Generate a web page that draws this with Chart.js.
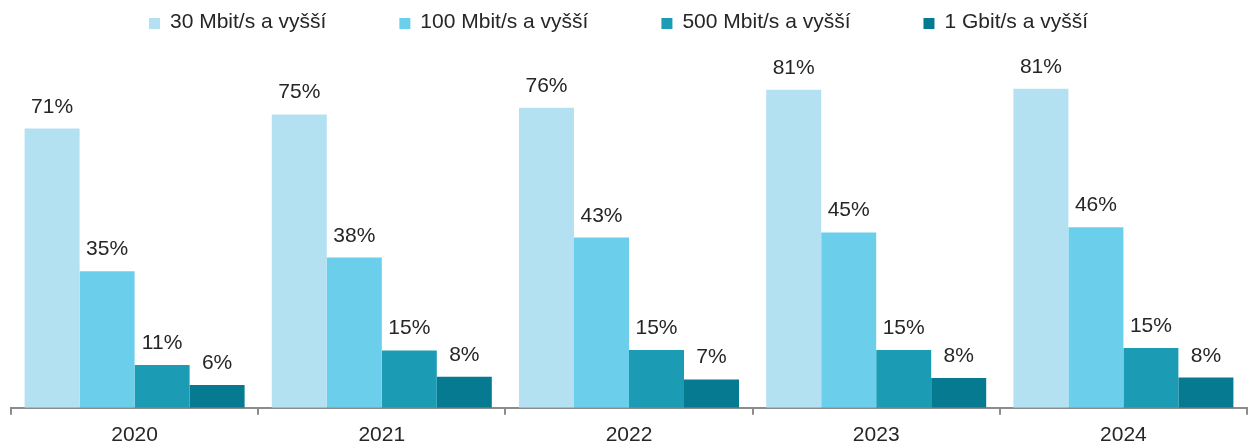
<!DOCTYPE html>
<html>
<head>
<meta charset="utf-8">
<script src="https://cdn.jsdelivr.net/npm/chart.js@4/dist/chart.umd.min.js"></script>
<style>
  html, body { margin: 0; padding: 0; background: #fff; }
  #wrap { width: 1249px; height: 443px; position: relative; }
</style>
</head>
<body>
<div id="wrap"><canvas id="speedChart"></canvas></div>
<script>
'use strict';

// ===== Data =====
const years = ['2020', '2021', '2022', '2023', '2024'];
const seriesNames = ['30 Mbit/s a vyšší', '100 Mbit/s a vyšší', '500 Mbit/s a vyšší', '1 Gbit/s a vyšší'];
const s30 = [71.0, 74.6, 76.3, 80.9, 81.1];
const s100 = [34.7, 38.2, 43.3, 44.6, 45.9];
const s500 = [10.9, 14.6, 14.7, 14.7, 15.2];
const s1g = [5.8, 7.9, 7.2, 7.6, 7.7];

const colors = ['#b4e1f2', '#6bcfeb', '#1c9bb4', '#067a90'];
const textColor = '#262626';
const axisColor = '#8c8c8c';
const fontFamily = "'Liberation Sans', Arial, sans-serif";
const font21 = '21px ' + fontFamily;

Chart.defaults.font.family = fontFamily;
Chart.defaults.color = textColor;

// value labels above each bar
const barLabels = {
  id: 'barLabels',
  afterDatasetsDraw(chart) {
    const ctx = chart.ctx;
    ctx.save();
    ctx.font = font21;
    ctx.fillStyle = textColor;
    ctx.textAlign = 'center';
    ctx.textBaseline = 'alphabetic';
    chart.data.datasets.forEach((ds, i) => {
      chart.getDatasetMeta(i).data.forEach((bar, j) => {
        ctx.fillText(Math.round(ds.data[j]) + '%', bar.x, bar.y - 16);
      });
    });
    ctx.restore();
  }
};

// legend row at the top (Excel style: small squares, wide gaps)
const topLegend = {
  id: 'topLegend',
  afterDraw(chart) {
    const ctx = chart.ctx;
    const box = 11, gapText = 10, gapItem = 73;
    ctx.save();
    ctx.font = font21;
    const widths = chart.data.datasets.map(ds => box + gapText + ctx.measureText(ds.label).width);
    const total = widths.reduce((a, b) => a + b, 0) + gapItem * (widths.length - 1);
    let x = (chart.width - total) / 2 - 6;
    const y = 22;
    chart.data.datasets.forEach((ds, i) => {
      ctx.fillStyle = ds.backgroundColor;
      ctx.fillRect(x, y - 4, box, box);
      ctx.fillStyle = textColor;
      ctx.textAlign = 'left';
      ctx.textBaseline = 'middle';
      ctx.fillText(ds.label, x + box + gapText, y);
      x += widths[i] + gapItem;
    });
    ctx.restore();
  }
};

const allSeries = [s30, s100, s500, s1g];

new Chart(document.getElementById('speedChart'), {
  type: 'bar',
  data: {
    labels: years,
    datasets: allSeries.map((vals, i) => ({
      label: seriesNames[i],
      data: vals,
      backgroundColor: colors[i],
      borderWidth: 0,
      categoryPercentage: 0.89,
      barPercentage: 1.0,
    }))
  },
  options: {
    responsive: true, maintainAspectRatio: false,
    animation: false,
    layout: { padding: { left: 11, right: 2, top: 46, bottom: -13 } },
    plugins: {
      legend: { display: false },
      tooltip: { enabled: false }
    },
    scales: {
      x: {
        offset: true,
        grid: { offset: true, drawOnChartArea: false, drawTicks: true, tickLength: 7, color: axisColor, lineWidth: 2 },
        border: { color: axisColor, width: 2 },
        ticks: { color: textColor, font: { size: 21 }, padding: 8 }
      },
      y: { display: false, min: 0, max: 92 }
    }
  },
  plugins: [barLabels, topLegend]
});
</script>
</body>
</html>
